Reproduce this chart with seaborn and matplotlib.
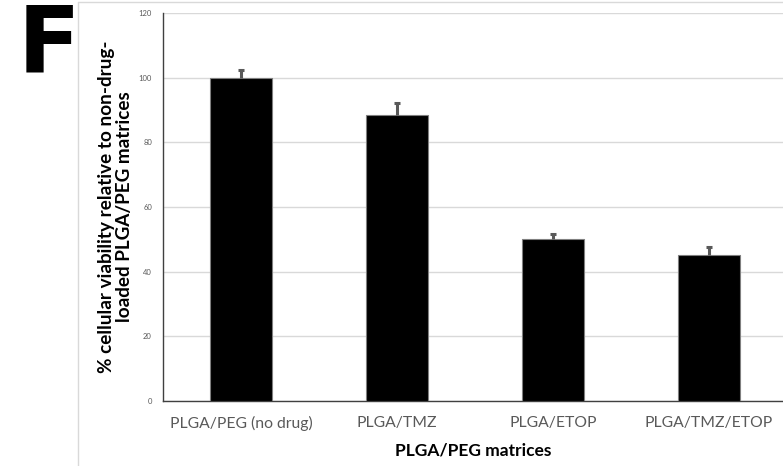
import matplotlib
matplotlib.use("Agg")
import matplotlib.pyplot as plt
import seaborn as sns
import pandas as pd
from matplotlib.lines import Line2D

categories = ["PLGA/PEG (no drug)", "PLGA/TMZ", "PLGA/ETOP", "PLGA/TMZ/ETOP"]
viability = [100.0, 88.6, 50.2, 45.2]
error_up = [2.5, 3.6, 1.4, 2.5]
y_ticks = [0, 20, 40, 60, 80, 100, 120]

df = pd.DataFrame({"matrix": categories, "viability": viability})

sns.set_theme(style="white")
plt.rcParams['font.family'] = ['Lato', 'DejaVu Sans']

fig = plt.figure(figsize=(7.83, 4.66), dpi=100)
ax = fig.add_axes([163/783, 1 - 401/466, (783-163)/783, (401-13)/466])

sns.barplot(data=df, x="matrix", y="viability", color="black", width=0.4,
            edgecolor="#7f7f7f", linewidth=0.8, saturation=1, ax=ax, zorder=3)
eb = ax.errorbar(range(len(categories)), viability, yerr=[[0]*len(categories), error_up],
                 fmt="none", ecolor="#595959", elinewidth=2.2, capsize=2.2, capthick=2.2, zorder=4)
# only the upper cap, as in the reference
eb[1][0].set_visible(False)

ax.set_ylim(0, 120)
ax.set_xlim(-0.5, 3.475)
ax.set_yticks(y_ticks)
ax.set_yticklabels([str(t) for t in y_ticks], fontsize=5.5, color="#595959")
ax.tick_params(axis="y", length=0, pad=8)
ax.tick_params(axis="x", length=0, pad=11, labelsize=11.3, labelcolor="#595959")
ax.yaxis.grid(True, color="#d9d9d9", linewidth=1)
ax.set_axisbelow(True)
for s in ["top", "right"]:
    ax.spines[s].set_visible(False)
ax.spines["left"].set_color("#404040")
ax.spines["left"].set_linewidth(1)
ax.spines["bottom"].set_color("#404040")
ax.spines["bottom"].set_linewidth(1)

ax.set_xlabel("PLGA/PEG matrices", fontsize=12.5, fontweight="bold", color="black", labelpad=8)
ax.set_ylabel("% cellular viability relative to non-drug-\nloaded PLGA/PEG matrices",
              fontsize=13.6, fontweight="bold", color="black", labelpad=4, linespacing=1.05)

# frame lines of the panel
fx = 78/783
fy = 1 - 2/466
fig.add_artist(Line2D([fx, fx], [0, fy], transform=fig.transFigure, color="#d9d9d9", lw=1))
fig.add_artist(Line2D([fx, 1], [fy, fy], transform=fig.transFigure, color="#d9d9d9", lw=1))

fig.text(18/783, 1 - 72/466, "F", fontsize=66, fontweight="heavy",
         family=["DejaVu Sans"], color="black", ha="left", va="baseline")

fig.savefig("out.png", dpi=100)
